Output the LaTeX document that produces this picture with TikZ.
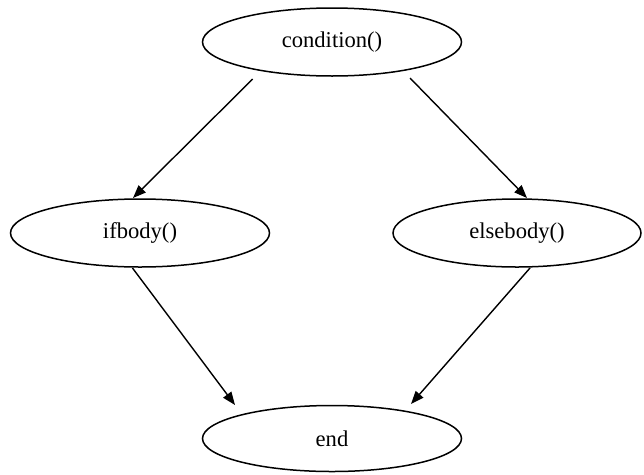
\documentclass[tikz,border=0pt]{standalone}
\usepackage{fontspec}
\setmainfont{Liberation Serif}
\usetikzlibrary{shapes.geometric,arrows.meta}
\begin{document}
\begin{tikzpicture}[x={(1pt,0)},y={(0,-1pt)},
  state/.style={draw,ellipse,line width=1.5pt,minimum width=259pt,minimum height=68pt,inner sep=0pt,font=\fontsize{22.6}{26}\selectfont},
  edge/.style={line width=1.4pt,-{Triangle[length=13pt,width=10pt]}}]
\useasboundingbox (0,0) rectangle (644,474);
\node[state] (cond) at (332,42) {condition()};
\node[state] (ifb) at (140,233) {ifbody()};
\node[state,minimum width=248pt] (elseb) at (517,233) {elsebody()};
\node[state,minimum height=66pt] (fin) at (332,438.5) {end};
\draw[edge] ([shift={(-79.3,37)}]cond.center) -- ([shift={(-7,-35)}]ifb.center);
\draw[edge] ([shift={(78,36)}]cond.center) -- ([shift={(10,-35)}]elseb.center);
\draw[edge] ([shift={(-7.5,35)}]ifb.center) -- ([shift={(-97,-33.5)}]fin.center);
\draw[edge] ([shift={(13,35)}]elseb.center) -- ([shift={(79,-34.5)}]fin.center);
\end{tikzpicture}
\end{document}
